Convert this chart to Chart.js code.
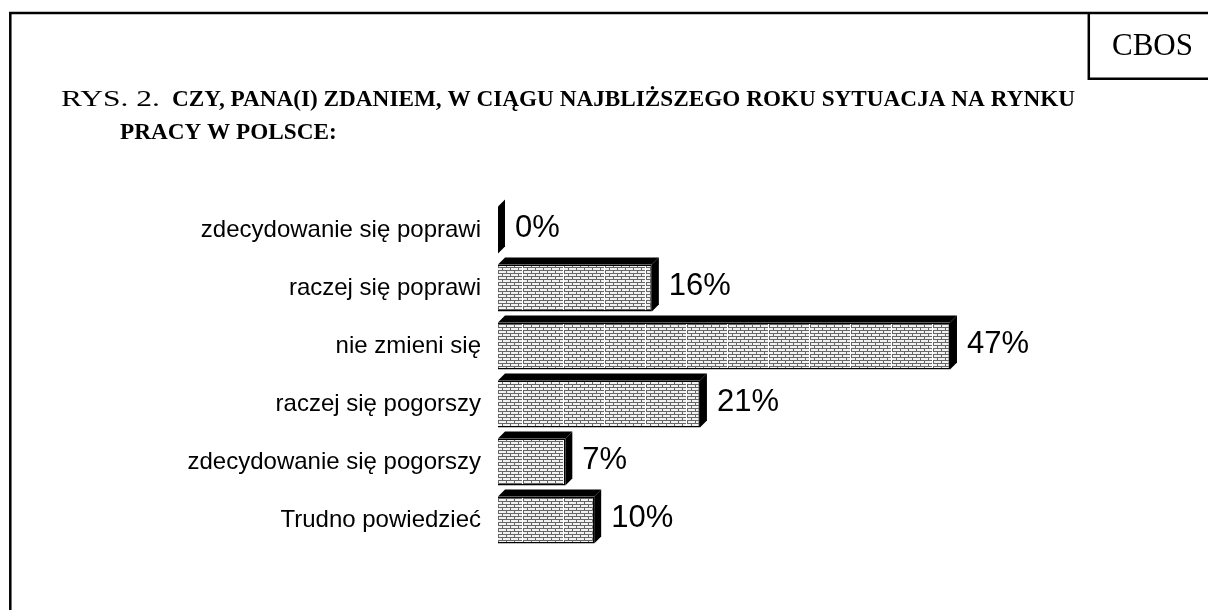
<!DOCTYPE html>
<html>
<head>
<meta charset="utf-8">
<script src="https://cdn.jsdelivr.net/npm/chart.js@4"></script>
<style>
	html, body { margin: 0; padding: 0; background: #fff; }
	#wrap { width: 1208px; height: 610px; }
</style>
</head>
<body>
<div id="wrap"><canvas id="myChart" width="1208" height="610"></canvas></div>
<script>
const categories = [
	'zdecydowanie się poprawi',
	'raczej się poprawi',
	'nie zmieni się',
	'raczej się pogorszy',
	'zdecydowanie się pogorszy',
	'Trudno powiedzieć'
];
const values = [0, 16, 47, 21, 7, 10];

const titlePrefix = 'RYS. 2.';
const titleLines = [
	'CZY, PANA(I) ZDANIEM, W CIĄGU NAJBLIŻSZEGO ROKU SYTUACJA NA RYNKU',
	'PRACY W POLSCE:'
];
const sourceLabel = 'CBOS';

const DEPTH = 7;

function makePattern(){
	var c = document.createElement('canvas');
	c.width = 41; c.height = 6;
	var g = c.getContext('2d');
	g.fillStyle = '#f2f2f2';
	g.fillRect(0, 0, 41, 6);
	g.fillStyle = '#666';
	g.fillRect(0, 0, 41, 1);
	g.fillRect(0, 3, 41, 1);
	for (var x = 0; x < 40; x++){
		if (x % 8 == 0) g.fillRect(x, 1, 1, 2);
		if (x % 8 == 4) g.fillRect(x, 4, 1, 2);
	}
	g.fillStyle = '#ffffff';
	g.fillRect(40, 0, 1, 6);
	var p = document.getElementById('myChart').getContext('2d').createPattern(c, 'repeat');
	p.setTransform(new DOMMatrix([1, 0, 0, 1, 31, 0]));
	return p;
}

// draws text squeezed/stretched to a given width
function fitText(ctx, text, x, y, width){
	var w = ctx.measureText(text).width;
	ctx.save();
	ctx.translate(x, y); ctx.scale(width / w, 1);
	ctx.fillText(text, 0, 0);
	ctx.restore();
	return width / w;
}

// frame, title and CBOS box
const framePlugin = {
	id: 'frame',
	beforeDraw(chart){
		const ctx = chart.ctx;
		ctx.save();
		ctx.strokeStyle = '#000';
		ctx.lineWidth = 2.5;
		ctx.beginPath();
		ctx.moveTo(10.3, 610); ctx.lineTo(10.3, 13); ctx.lineTo(1208, 13);
		ctx.moveTo(1088.8, 13); ctx.lineTo(1088.8, 78.7); ctx.lineTo(1208, 78.7);
		ctx.stroke();

		ctx.fillStyle = '#000';
		ctx.textBaseline = 'alphabetic';
		ctx.font = '31px "Liberation Serif"';
		ctx.fillText(sourceLabel, 1112, 55);

		ctx.font = '24px "Liberation Serif"';
		fitText(ctx, titlePrefix, 61, 106, 99);

		ctx.font = 'bold 24px "Liberation Serif"';
		var sx = fitText(ctx, titleLines[0], 172, 106, 903);
		ctx.save();
		ctx.translate(120, 139); ctx.scale(sx, 1);
		ctx.fillText(titleLines[1], 0, 0);
		ctx.restore();
		ctx.restore();
	}
};

// top and side faces of the 3D bars plus value labels
const boxPlugin = {
	id: 'box3d',
	afterDatasetsDraw(chart){
		const ctx = chart.ctx;
		const meta = chart.getDatasetMeta(0);
		ctx.save();
		meta.data.forEach(function(el, i){
			const p = el.getProps(['x', 'y', 'base', 'height'], true);
			const left = p.base, right = p.x;
			const top = p.y - p.height / 2, bottom = p.y + p.height / 2;
			ctx.fillStyle = '#000';
			ctx.beginPath();
			ctx.moveTo(left, top);
			ctx.lineTo(left + DEPTH, top - DEPTH);
			ctx.lineTo(right + DEPTH, top - DEPTH);
			ctx.lineTo(right, top);
			ctx.closePath();
			ctx.fill();
			ctx.beginPath();
			ctx.moveTo(right, top);
			ctx.lineTo(right + DEPTH, top - DEPTH);
			ctx.lineTo(right + DEPTH, bottom - DEPTH);
			ctx.lineTo(right, bottom);
			ctx.closePath();
			ctx.fill();

			ctx.font = '31px "Liberation Sans"';
			ctx.textBaseline = 'middle';
			ctx.textAlign = 'left';
			ctx.fillText(values[i] + '%', right + DEPTH + 10, p.y - 2);
		});
		ctx.restore();
	}
};

function createChart(){
	var chart = document.getElementById('myChart');

	const data = {
		labels: categories,
		datasets: [{
			data: values,
			backgroundColor: makePattern(),
			borderColor: '#000',
			borderWidth: 1.5,
			barPercentage: 0.81,
			categoryPercentage: 1
		}]
	};
	const config = {
		type: 'bar',
		data: data,
		options: {
			indexAxis: 'y',
			responsive: false,
			animation: false,
			layout: { padding: { top: 201, bottom: 61, left: 0, right: 133 } },
			plugins: {
				legend: { display: false },
				tooltip: { enabled: false }
			},
			scales: {
				x: { display: false, min: 0, max: 60 },
				y: {
					grid: { display: false },
					border: { display: false },
					ticks: {
						color: '#000',
						padding: 9,
						font: { family: 'Liberation Sans', size: 24 }
					},
					afterFit(scale){ scale.width = 498; }
				}
			}
		},
		plugins: [framePlugin, boxPlugin]
	};

	const myChart = new Chart(chart, config);
}

document.addEventListener("DOMContentLoaded", createChart);
</script>
</body>
</html>
